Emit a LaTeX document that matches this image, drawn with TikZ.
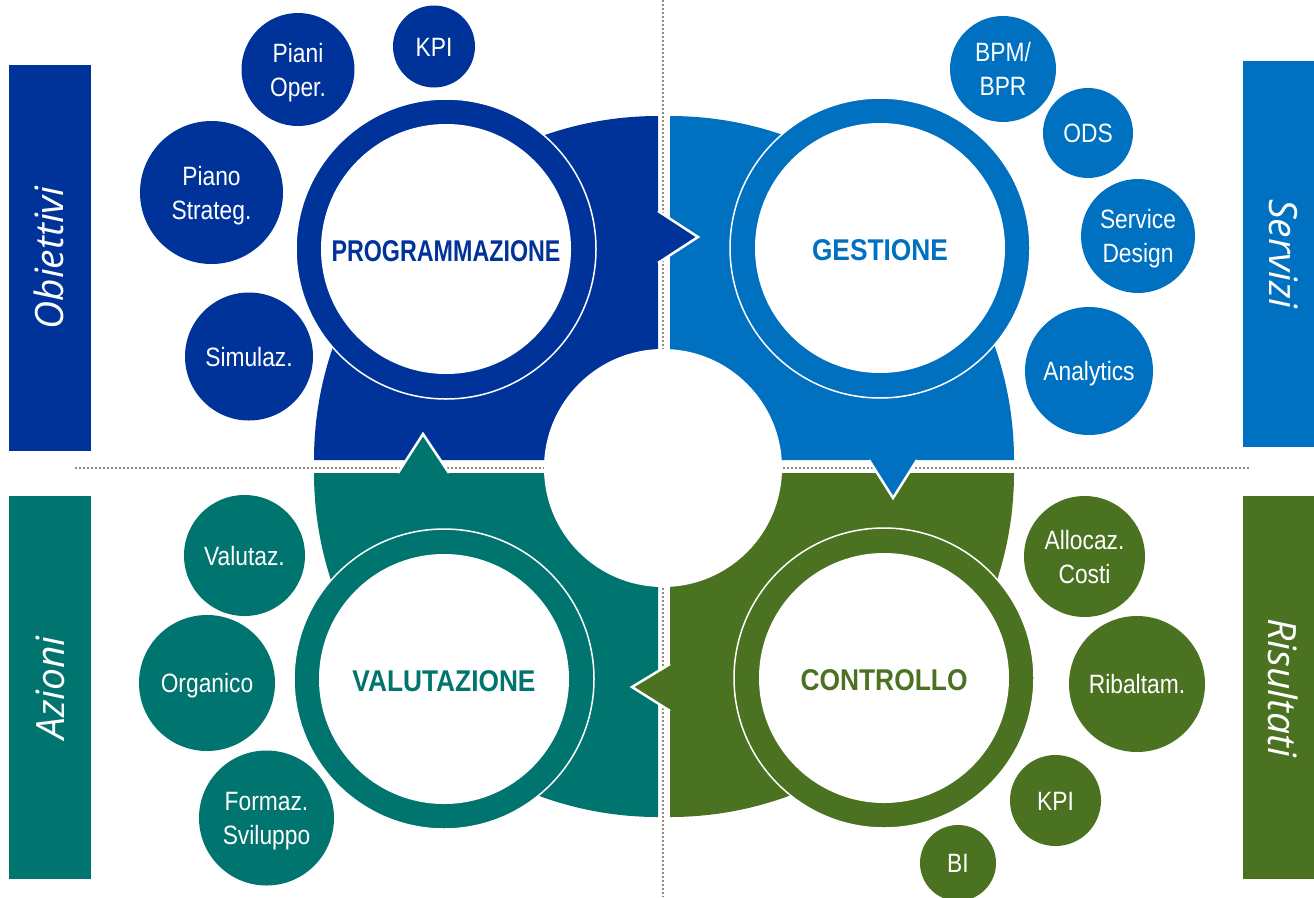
\documentclass[tikz,border=0pt]{standalone}
\usepackage{fontspec}
\usepackage{graphicx}
\setmainfont{Liberation Sans}
\newfontfamily\sidefont{Open Sans}
\definecolor{cblue}{RGB}{0,51,153}
\definecolor{clight}{RGB}{0,112,192}
\definecolor{cteal}{RGB}{0,116,111}
\definecolor{cgreen}{RGB}{75,114,32}
\definecolor{cdot}{RGB}{150,138,115}
\newcommand{\sml}[1]{{\fontsize{26.5}{34}\selectfont\scalebox{0.86}[1]{\begin{tabular}{@{}c@{}}#1\end{tabular}}}}
\newcommand{\biglab}[2]{\resizebox{#1}{\height}{\fontsize{30}{30}\selectfont\bfseries #2}}
\newcommand{\sidelab}[1]{{\sidefont\itshape\fontsize{39}{39}\selectfont #1}}
\tikzset{
  bub/.style={circle, fill=#1, inner sep=0pt, text=white},
  bubtext/.style={text=white, inner sep=0pt, yshift=-3pt},
  ringout/.style={circle, fill=#1, draw=white, line width=1.5pt, inner sep=0pt, minimum size=300pt},
  ringin/.style={circle, fill=white, inner sep=0pt, minimum size=250pt},
  ringtext/.style={text=#1, inner sep=0pt, yshift=-2pt},
  dotline/.style={cdot, line width=2pt, dash pattern=on 2pt off 2pt},
  arrowtip/.style={fill=#1, draw=white, line width=2.5pt},
  sidebar/.style={fill=#1, draw=none, inner sep=0pt},
  sidetext/.style={text=white, inner sep=0pt},
}
\begin{document}
\begin{tikzpicture}[x=1pt,y=-1pt]
\useasboundingbox (0,0) rectangle (1314,897);
% dotted separators
\coordinate (vtop) at (663,0);
\coordinate (vbot) at (663,897);
\coordinate (hleft) at (75,468);
\coordinate (hright) at (1250,468);
\draw[dotline] (vtop) -- (vbot);
\draw[dotline] (hleft) -- (hright);
% quadrants
\fill[cblue] (658,460) -- (314,460) arc[start angle=180,end angle=90,radius=344pt] -- cycle;
\fill[clight] (670,460) -- (670,116) arc[start angle=90,end angle=0,radius=344pt] -- cycle;
\fill[cteal] (658,473) -- (658,817) arc[start angle=270,end angle=180,radius=344pt] -- cycle;
\fill[cgreen] (670,473) -- (1014,473) arc[start angle=0,end angle=-90,radius=344pt] -- cycle;
% arrows between quadrants
\filldraw[arrowtip=cblue] (658,211) -- (698,237) -- (658,263);
\filldraw[arrowtip=clight] (869,460) -- (893,498) -- (917,460);
\filldraw[arrowtip=cgreen] (670,664) -- (632,687) -- (670,711);
\filldraw[arrowtip=cteal] (398,473) -- (423,434) -- (449,473);
% centre hole
\fill[white] (663,468) circle[radius=119pt];
% rings
\node[ringout=cblue] (progring) at (446,249) {};
\node[ringin] (progin) at (446,249) {};
\node[ringtext=cblue] (prog) at (446,249) {\biglab{229pt}{PROGRAMMAZIONE}};
\node[ringout=clight] (gestring) at (880,248) {};
\node[ringin] (gestin) at (880,248) {};
\node[ringtext=clight] (gest) at (880,248) {\biglab{136pt}{GESTIONE}};
\node[ringout=cteal] (valring) at (444,679) {};
\node[ringin] (valin) at (444,679) {};
\node[ringtext=cteal] (val) at (444,679) {\biglab{183pt}{VALUTAZIONE}};
\node[ringout=cgreen] (conring) at (884,678) {};
\node[ringin] (conin) at (884,678) {};
\node[ringtext=cgreen] (con) at (884,678) {\biglab{167pt}{CONTROLLO}};
% bubbles TL
\node[bub=cblue, minimum size=82pt] (kpia) at (434,46.5) {};
\node[bubtext] at (kpia) {\sml{KPI}};
\node[bub=cblue, minimum size=113pt] (pianiop) at (298,69.5) {};
\node[bubtext] at (pianiop) {\sml{Piani\\Oper.}};
\node[bub=cblue, minimum size=143pt] (pianostr) at (211.5,192.5) {};
\node[bubtext] at (pianostr) {\sml{Piano\\Strateg.}};
\node[bub=cblue, minimum size=128pt] (simul) at (249,356.5) {};
\node[bubtext] at (simul) {\sml{Simulaz.}};
% bubbles TR
\node[bub=clight, minimum size=106pt] (bpm) at (1003,69) {};
\node[bubtext] at (bpm) {\sml{BPM/\\BPR}};
\node[bub=clight, minimum size=90pt] (ods) at (1088,133) {};
\node[bubtext] at (ods) {\sml{ODS}};
\node[bub=clight, minimum size=114pt] (service) at (1138,236) {};
\node[bubtext] at (service) {\sml{Service\\Design}};
\node[bub=clight, minimum size=128pt] (analytics) at (1089,371) {};
\node[bubtext] at (analytics) {\sml{Analytics}};
% bubbles BL
\node[bub=cteal, minimum size=121pt] (valutaz) at (244.5,555.5) {};
\node[bubtext] at (valutaz) {\sml{Valutaz.}};
\node[bub=cteal, minimum size=136pt] (organico) at (207,683) {};
\node[bubtext] at (organico) {\sml{Organico}};
\node[bub=cteal, minimum size=135pt] (formaz) at (266.5,818) {};
\node[bubtext] at (formaz) {\sml{Formaz.\\Sviluppo}};
% bubbles BR
\node[bub=cgreen, minimum size=121pt] (allocaz) at (1084.5,556.5) {};
\node[bubtext] at (allocaz) {\sml{Allocaz.\\Costi}};
\node[bub=cgreen, minimum size=136pt] (ribaltam) at (1137,684) {};
\node[bubtext] at (ribaltam) {\sml{Ribaltam.}};
\node[bub=cgreen, minimum size=91pt] (kpib) at (1055.5,800.5) {};
\node[bubtext] at (kpib) {\sml{KPI}};
\node[bub=cgreen, minimum size=76pt] (bi) at (958,863) {};
\node[bubtext] at (bi) {\sml{BI}};
% side bars
\node[sidebar=cblue, minimum width=82pt, minimum height=386pt] (barobj) at (50,258) {};
\node[sidetext, rotate=90] (obj) at (49,258) {\sidelab{Obiettivi}};
\node[sidebar=clight, minimum width=71pt, minimum height=386pt] (barser) at (1278.5,254) {};
\node[sidetext, rotate=-90] (ser) at (1284,254) {\sidelab{Servizi}};
\node[sidebar=cteal, minimum width=82pt, minimum height=383pt] (barazi) at (50,687.5) {};
\node[sidetext, rotate=90] (azi) at (50,688) {\sidelab{Azioni}};
\node[sidebar=cgreen, minimum width=71pt, minimum height=383pt] (barris) at (1278.5,687.5) {};
\node[sidetext, rotate=-90] (ris) at (1283,687.5) {\sidelab{Risultati}};
\end{tikzpicture}
\end{document}
